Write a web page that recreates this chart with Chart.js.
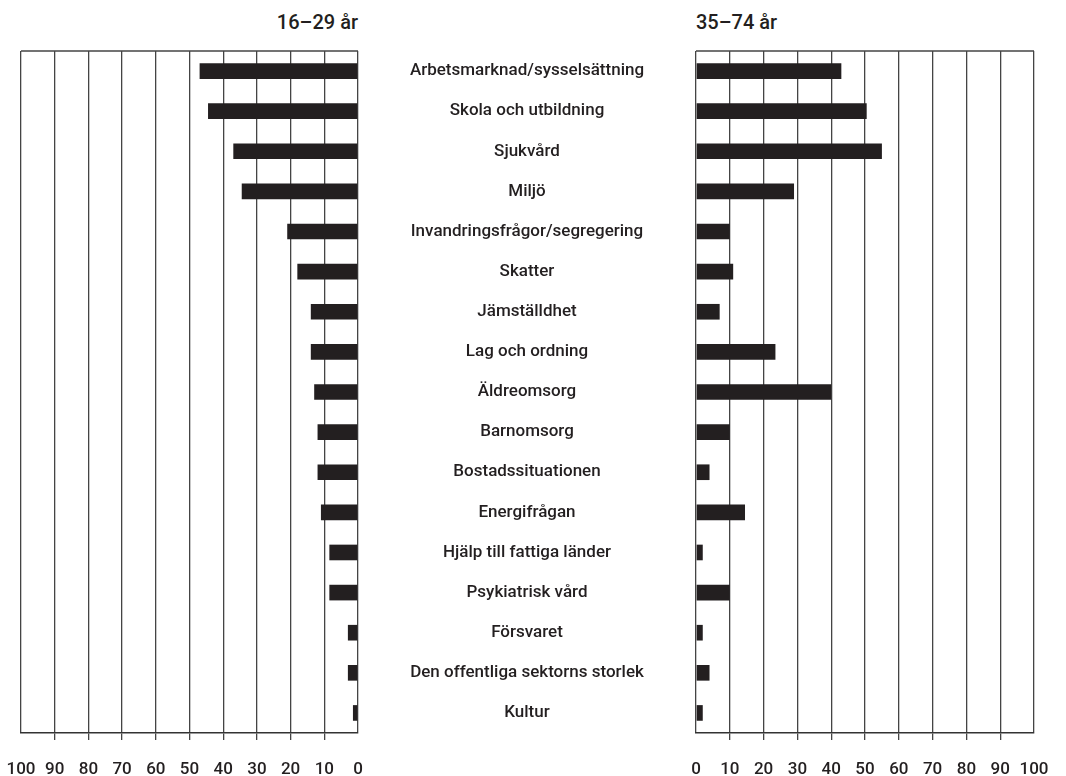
<!DOCTYPE html>
<html lang="sv">
<head>
<meta charset="utf-8">
<title>Viktiga samhällsfrågor efter ålder</title>
<script src="https://cdn.jsdelivr.net/npm/chart.js"></script>
<style>
    body { margin: 0; background: #fff; font-family: Roboto, "Noto Sans", sans-serif; }
    #wrap { position: relative; width: 1066px; height: 776px; overflow: hidden; }
    .box { position: absolute; top: 0; height: 776px; }
    #boxVanster { left: 0; width: 700px; }
    #boxHoger { left: 680px; width: 386px; }
    .rubrik { position: absolute; top: 10px; font-size: 20px; font-weight: 500; color: #231f20; white-space: nowrap; }
    #rubrikVanster { right: 708px; }
    #rubrikHoger { left: 696px; }
</style>
</head>
<body>
<div id="wrap">
    <div class="rubrik" id="rubrikVanster">16–29 år</div>
    <div class="rubrik" id="rubrikHoger">35–74 år</div>
    <div class="box" id="boxVanster"><canvas id="chartVanster"></canvas></div>
    <div class="box" id="boxHoger"><canvas id="chartHoger"></canvas></div>
</div>
<script>
// Kategorier (uppifrån och ned)
const kategorier = [
    'Arbetsmarknad/sysselsättning',
    'Skola och utbildning',
    'Sjukvård',
    'Miljö',
    'Invandringsfrågor/segregering',
    'Skatter',
    'Jämställdhet',
    'Lag och ordning',
    'Äldreomsorg',
    'Barnomsorg',
    'Bostadssituationen',
    'Energifrågan',
    'Hjälp till fattiga länder',
    'Psykiatrisk vård',
    'Försvaret',
    'Den offentliga sektorns storlek',
    'Kultur'
];

// Andel (%) per åldersgrupp
const unga = [47, 44.5, 37, 34.5, 21, 18, 14, 14, 13, 12, 12, 11, 8.5, 8.5, 3, 3, 1.5];
const aldre = [43, 50.5, 55, 29, 10, 11, 7, 23.5, 40, 10, 4, 14.5, 2, 10, 2, 4, 2];

// Skala
const skalaMin = 0;
const skalaMax = 100;
const skalaSteg = 10;

const svart = '#231f20';
const linje = '#444';
const textFont = { family: 'Roboto', size: 17, weight: '500' };
const tickFont = { family: 'Roboto', size: 17, weight: '500' };

// Ram överst i diagramytan
const ramPlugin = {
    id: 'ram',
    afterDraw(chart) {
        const { ctx, chartArea } = chart;
        ctx.save();
        ctx.strokeStyle = linje;
        ctx.lineWidth = 1.3;
        ctx.beginPath();
        ctx.moveTo(chartArea.left, chartArea.top);
        ctx.lineTo(chartArea.right, chartArea.top);
        ctx.stroke();
        ctx.restore();
    }
};

function xSkala(omvand) {
    return {
        type: 'linear',
        reverse: omvand,
        min: skalaMin,
        max: skalaMax,
        grid: {
            color: linje,
            lineWidth: 1.3,
            tickLength: 7,
            tickColor: (c) => (c.tick && (c.tick.value === skalaMin || c.tick.value === skalaMax)) ? 'rgba(0,0,0,0)' : linje
        },
        border: { display: true, color: '#333', width: 1.5 },
        ticks: {
            stepSize: skalaSteg,
            color: svart,
            font: tickFont,
            padding: 20,
            maxRotation: 0,
            autoSkip: false
        },
        afterFit(scale) {
            scale.height = 43;
            scale.paddingLeft = 0;
            scale.paddingRight = 0;
        }
    };
}

function dataset(varden) {
    return {
        data: varden,
        backgroundColor: svart,
        borderWidth: 0,
        categoryPercentage: 1,
        barPercentage: 0.39
    };
}

// Mät längsta etikett för att centrera kategorinamnen mellan diagrammen
const mat = document.createElement('canvas').getContext('2d');
mat.font = `${textFont.weight} ${textFont.size}px ${textFont.family}`;
const bredast = Math.max(...kategorier.map(k => mat.measureText(k).width));
const etikettYta = 338;
const etikettPadding = (etikettYta - bredast) / 2;

const gemensamt = {
    indexAxis: 'y',
    responsive: true,
    maintainAspectRatio: false,
    animation: false,
    events: [],
    plugins: {
        legend: { display: false },
        tooltip: { enabled: false },
        title: { display: false }
    }
};

new Chart(document.getElementById('chartVanster'), {
    type: 'bar',
    data: { labels: kategorier, datasets: [dataset(unga)] },
    options: {
        ...gemensamt,
        layout: { padding: { left: 21, right: 4, top: 51, bottom: 0 } },
        scales: {
            x: xSkala(true),
            y: {
                position: 'right',
                grid: { display: false, drawTicks: false },
                border: { display: false },
                ticks: {
                    color: svart,
                    font: textFont,
                    crossAlign: 'center',
                    padding: etikettPadding,
                    autoSkip: false
                },
                afterFit(scale) {
                    scale.width = etikettYta;
                    scale.paddingTop = 0;
                    scale.paddingBottom = 0;
                }
            }
        }
    },
    plugins: [ramPlugin]
});

new Chart(document.getElementById('chartHoger'), {
    type: 'bar',
    data: { labels: kategorier, datasets: [dataset(aldre)] },
    options: {
        ...gemensamt,
        layout: { padding: { left: 16, right: 32, top: 51, bottom: 0 } },
        scales: {
            x: xSkala(false),
            y: { display: false }
        }
    },
    plugins: [ramPlugin]
});
</script>
</body>
</html>
